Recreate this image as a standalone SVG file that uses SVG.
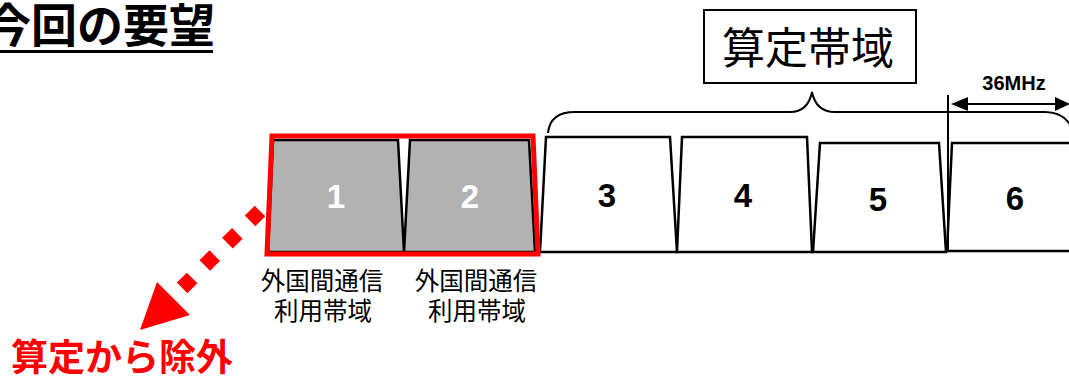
<svg xmlns="http://www.w3.org/2000/svg" width="1069" height="378" viewBox="0 0 1069 378">
<style>
.trap{fill:#fff;stroke:#000;stroke-width:2.5;stroke-linejoin:miter}
.gray{fill:#b2b2b2}
.num{font-family:"Liberation Sans",Arial,sans-serif;font-weight:bold;font-size:33px;text-anchor:middle}
.jp{font-family:"Noto Sans CJK JP","Noto Sans",sans-serif}
.lbl{font-size:24.5px;text-anchor:middle;fill:#000}
.line{fill:none;stroke:#000;stroke-width:2}
</style>
<rect width="1069" height="378" fill="#fff"/>

<g id="title">
<text x="215" y="42" class="jp" font-size="46" font-weight="bold" text-anchor="end">今回の要望</text>
<rect x="0" y="50" width="213" height="3" fill="#000"/>
</g>

<g id="band-box">
<rect x="704" y="10" width="212" height="73" fill="#fff" stroke="#000" stroke-width="2"/>
<text x="808" y="64" class="jp" font-size="43" text-anchor="middle">算定帯域</text>
</g>

<g id="ch1">
<polygon class="trap gray" points="273,140 398,140 404,252 268,252"/>
<text x="336" y="208" class="num" fill="#fff">1</text>
</g>
<g id="ch2">
<polygon class="trap gray" points="410,140 529,140 535,252 404,252"/>
<text x="470" y="208" class="num" fill="#fff">2</text>
</g>
<g id="ch3">
<polygon class="trap" points="546,137 670,137 677,252 540,252"/>
<text x="607" y="207" class="num">3</text>
</g>
<g id="ch4">
<polygon class="trap" points="682,137 807,137 812,252 677,252"/>
<text x="743" y="207" class="num">4</text>
</g>
<g id="ch5">
<polygon class="trap" points="820,143 939,143 946,252 813,252"/>
<text x="878" y="211" class="num">5</text>
</g>
<g id="ch6">
<polygon class="trap" points="952,143 1080,143 1080,251 947,251"/>
<text x="1015" y="210" class="num">6</text>
</g>

<g id="excluded-outline">
<polygon points="272,136 533,136 538,254 267,254" fill="none" stroke="#ff0000" stroke-width="5" stroke-linejoin="miter"/>
</g>

<g id="label1">
<text x="322" y="290" class="jp lbl">外国間通信</text>
<text x="323" y="320" class="jp lbl">利用帯域</text>
</g>
<g id="label2">
<text x="476" y="290" class="jp lbl">外国間通信</text>
<text x="477" y="320" class="jp lbl">利用帯域</text>
</g>

<g id="excluded-label">
<text x="11" y="371" class="jp" font-size="37" font-weight="bold" fill="#ff0000">算定から除外</text>
</g>

<g id="connectors">
<path class="line" d="M548,133 Q550,112 575,112 L790,112 Q808,112 812,92 Q816,112 835,112 L1045,112 Q1064,112 1072,128"/>
<line class="line" x1="948" y1="95" x2="948" y2="251"/>
<line x1="960" y1="104" x2="1062" y2="104" stroke="#000" stroke-width="2"/>
<path d="M951,104 L968,97 L968,111 Z" fill="#000"/>
<path d="M1070,104 L1055,97 L1055,111 Z" fill="#000"/>
<text x="1014" y="90" font-family="Liberation Sans,Arial,sans-serif" font-weight="bold" font-size="20" text-anchor="middle">36MHz</text>
<line x1="260" y1="211" x2="182" y2="288" stroke="#ff0000" stroke-width="15" stroke-dasharray="14 17.8"/>
<polygon points="157,282 190,315 140,330" fill="#ff0000"/>
</g>
</svg>
